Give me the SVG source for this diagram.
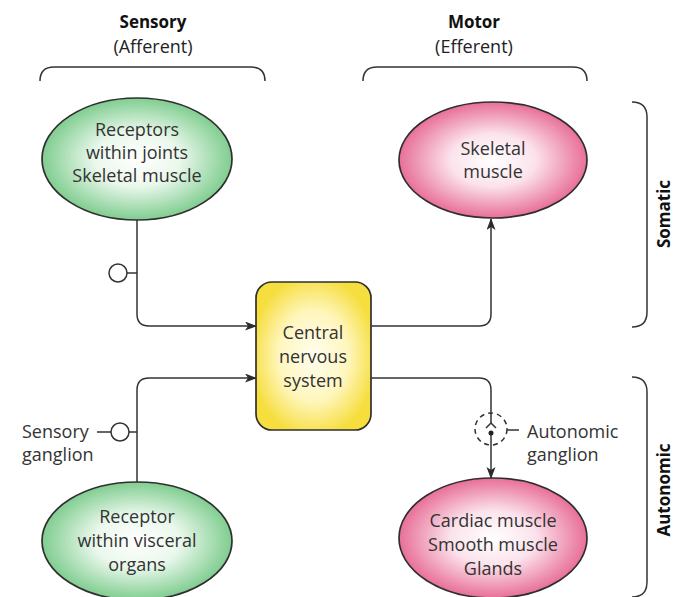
<svg xmlns="http://www.w3.org/2000/svg" width="676" height="597" viewBox="0 0 676 597">
<defs>
<radialGradient id="gGreen" cx="50%" cy="50%" r="50%">
<stop offset="0" stop-color="#ffffff"/><stop offset="0.45" stop-color="#eaf8ec"/><stop offset="1" stop-color="#80cd90"/>
</radialGradient>
<radialGradient id="gPink" cx="50%" cy="50%" r="50%">
<stop offset="0" stop-color="#ffffff"/><stop offset="0.45" stop-color="#fbe3ec"/><stop offset="1" stop-color="#e86f98"/>
</radialGradient>
<radialGradient id="gYellow" cx="50%" cy="50%" r="55%">
<stop offset="0" stop-color="#fffdf0"/><stop offset="0.55" stop-color="#fff6bd"/><stop offset="1" stop-color="#f6de3e"/>
</radialGradient>
<marker id="arr" markerWidth="12" markerHeight="10" refX="11" refY="4.5" orient="auto" markerUnits="userSpaceOnUse">
<path d="M0,0 L12,4.5 L0,9 L3,4.5 Z" fill="#2b2b2b"/>
</marker>
</defs>
<style>
.ln{fill:none;stroke:#333;stroke-width:1.5}
.node{stroke:#2f2f2f;stroke-width:1.7}
.t{font-family:"Open Sans","Noto Sans",sans-serif;font-size:18px;fill:#333;text-anchor:middle}
.tl{font-family:"Open Sans","Noto Sans",sans-serif;font-size:18px;fill:#333}
.h{font-family:"Open Sans","Noto Sans",sans-serif;font-size:17px;font-weight:bold;fill:#111;text-anchor:middle}
.hs{font-family:"Open Sans","Noto Sans",sans-serif;font-size:18px;fill:#222;text-anchor:middle}
</style>
<rect width="676" height="597" fill="#fff"/>

<g id="headers">
<text class="h" x="153" y="28">Sensory</text>
<text class="hs" x="153" y="53">(Afferent)</text>
<text class="h" x="474" y="28">Motor</text>
<text class="hs" x="474" y="53">(Efferent)</text>
<path class="ln" d="M40,81 Q40,67 54,67 L251,67 Q265,67 265,81"/>
<path class="ln" d="M363,81 Q363,67 377,67 L573,67 Q587,67 587,81"/>
<path class="ln" d="M632,102 Q647,102 647,117 L647,312 Q647,327 632,327"/>
<path class="ln" d="M632,377 Q647,377 647,392 L647,582 Q647,597 632,597"/>
<text class="h" transform="translate(670,214) rotate(-90)">Somatic</text>
<text class="h" transform="translate(670,490) rotate(-90)">Autonomic</text>
</g>

<g id="connectors">
<path class="ln" d="M137,220 L137,314 Q137,326 149,326 L256,326" marker-end="url(#arr)"/>
<path class="ln" d="M137,482 L137,390 Q137,378 149,378 L256,378" marker-end="url(#arr)"/>
<path class="ln" d="M371,326 L479,326 Q491,326 491,314 L491,219" marker-end="url(#arr)"/>
<path class="ln" d="M371,378 L479,378 Q491,378 491,390 L491,423"/>
<path class="ln" d="M491,433 L491,478" marker-end="url(#arr)"/>
</g>

<g id="sensory-receptor-ganglion">
<circle class="ln" cx="118" cy="273" r="9"/>
<path class="ln" d="M127,273 L137,273"/>
</g>

<g id="sensory-ganglion">
<circle class="ln" cx="120" cy="432" r="9"/>
<path class="ln" d="M129,432 L137,432 M97,432 L111,432"/>
<text class="tl" x="22" y="438">Sensory</text>
<text class="tl" x="22" y="461">ganglion</text>
</g>

<g id="autonomic-ganglion">
<circle class="ln" cx="491" cy="429" r="16" stroke-dasharray="5 4"/>
<path class="ln" d="M486,428 L491,423 L496,428"/>
<circle cx="491" cy="433" r="2.5" fill="#222"/>
<path class="ln" d="M507,430 L519,430"/>
<text class="tl" x="527" y="438">Autonomic</text>
<text class="tl" x="527" y="461">ganglion</text>
</g>

<g id="receptors-joints">
<ellipse class="node" cx="137" cy="159" rx="95" ry="61" fill="url(#gGreen)"/>
<text class="t" x="137" y="136">Receptors</text>
<text class="t" x="137" y="159">within joints</text>
<text class="t" x="137" y="182">Skeletal muscle</text>
</g>

<g id="skeletal-muscle">
<ellipse class="node" cx="493" cy="160" rx="94" ry="58" fill="url(#gPink)"/>
<text class="t" x="493" y="155">Skeletal</text>
<text class="t" x="493" y="178">muscle</text>
</g>

<g id="cns">
<rect class="node" x="256" y="282" width="115" height="148" rx="16" fill="url(#gYellow)"/>
<text class="t" x="313" y="339">Central</text>
<text class="t" x="313" y="363">nervous</text>
<text class="t" x="313" y="387">system</text>
</g>

<g id="receptor-visceral">
<ellipse class="node" cx="137" cy="541" rx="95" ry="59" fill="url(#gGreen)"/>
<text class="t" x="137" y="523">Receptor</text>
<text class="t" x="137" y="547">within visceral</text>
<text class="t" x="137" y="571">organs</text>
</g>

<g id="effectors">
<ellipse class="node" cx="493" cy="538" rx="94" ry="60" fill="url(#gPink)"/>
<text class="t" x="493" y="527">Cardiac muscle</text>
<text class="t" x="493" y="551">Smooth muscle</text>
<text class="t" x="493" y="575">Glands</text>
</g>
</svg>
